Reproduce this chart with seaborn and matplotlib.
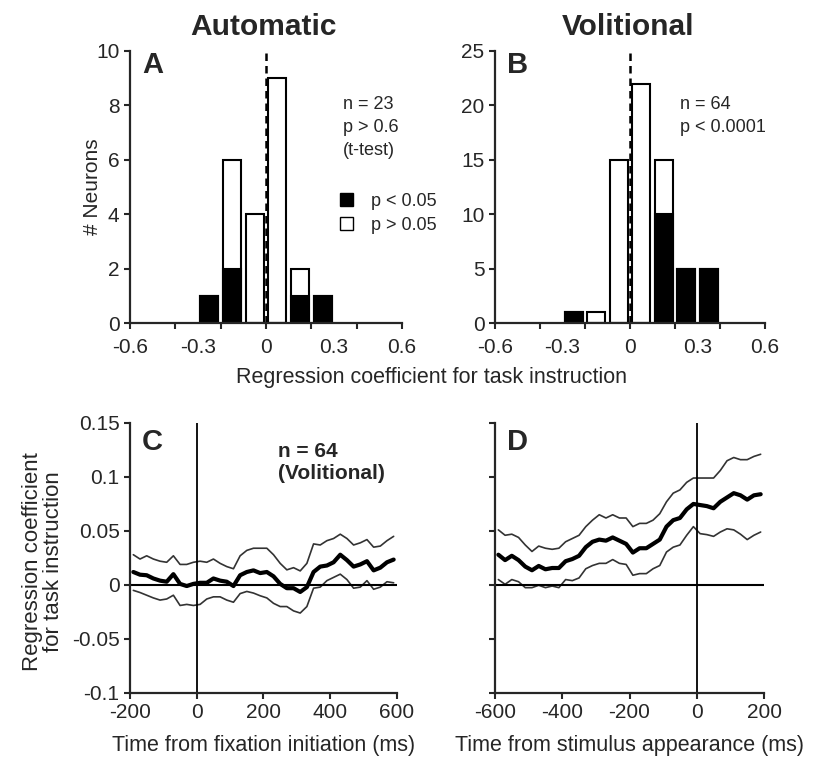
import numpy as np
import matplotlib
matplotlib.use("Agg")
import matplotlib.pyplot as plt
from matplotlib.patches import Patch
from matplotlib.ticker import MultipleLocator, FuncFormatter
import seaborn as sns

# histogram bins (regression coefficient), counts per bin
bins_a = [-0.25, -0.15, -0.05, 0.05, 0.15, 0.25]
total_a = [1, 6, 4, 9, 2, 1]
sig_a = [1, 2, 0, 0, 1, 1]

bins_b = [-0.25, -0.15, -0.05, 0.05, 0.15, 0.25, 0.35]
total_b = [1, 1, 15, 22, 15, 5, 5]
sig_b = [1, 0, 0, 0, 10, 5, 5]

# time courses (ms)
time_c = [-190, -170, -150, -130, -110, -90, -70, -50, -30, -10,
          10, 30, 50, 70, 90, 110, 130, 150, 170, 190,
          210, 230, 250, 270, 290, 310, 330, 350, 370, 390,
          410, 430, 450, 470, 490, 510, 530, 550, 570, 590]
mean_c = [0.012, 0.0095, 0.009, 0.006, 0.004, 0.003, 0.010, 0.001, -0.001, 0.001,
          0.002, 0.002, 0.006, 0.004, 0.003, -0.001, 0.009, 0.012, 0.0135, 0.011,
          0.012, 0.008, 0.001, -0.003, -0.003, -0.0065, -0.002, 0.012, 0.017, 0.018,
          0.021, 0.028, 0.023, 0.017, 0.019, 0.022, 0.0135, 0.016, 0.021, 0.0235]
upper_c = [0.028, 0.024, 0.027, 0.024, 0.022, 0.021, 0.027, 0.019, 0.019, 0.021,
           0.022, 0.021, 0.024, 0.020, 0.017, 0.015, 0.027, 0.032, 0.034, 0.034,
           0.034, 0.028, 0.020, 0.014, 0.016, 0.013, 0.020, 0.038, 0.037, 0.041,
           0.043, 0.047, 0.043, 0.037, 0.039, 0.042, 0.035, 0.036, 0.041, 0.045]
lower_c = [-0.005, -0.007, -0.0095, -0.012, -0.014, -0.013, -0.0095, -0.019, -0.018, -0.019,
           -0.018, -0.013, -0.011, -0.011, -0.014, -0.016, -0.008, -0.006, -0.0075, -0.010,
           -0.012, -0.017, -0.020, -0.020, -0.024, -0.026, -0.020, -0.003, -0.002, 0.004,
           0.007, 0.010, 0.005, -0.003, -0.002, 0.004, -0.004, -0.002, 0.003, 0.002]

time_d = [-590, -570, -550, -530, -510, -490, -470, -450, -430, -410,
          -390, -370, -350, -330, -310, -290, -270, -250, -230, -210,
          -190, -170, -150, -130, -110, -90, -70, -50, -30, -10,
          10, 30, 50, 70, 90, 110, 130, 150, 170, 190]
mean_d = [0.028, 0.023, 0.027, 0.023, 0.017, 0.0136, 0.0176, 0.0145, 0.0157, 0.0157,
          0.022, 0.024, 0.027, 0.035, 0.040, 0.042, 0.041, 0.044, 0.041, 0.038,
          0.030, 0.034, 0.034, 0.038, 0.042, 0.054, 0.060, 0.062, 0.070, 0.075,
          0.074, 0.073, 0.071, 0.077, 0.081, 0.085, 0.083, 0.079, 0.083, 0.084]
upper_d = [0.051, 0.046, 0.047, 0.044, 0.037, 0.031, 0.036, 0.034, 0.033, 0.034,
           0.040, 0.043, 0.046, 0.054, 0.060, 0.065, 0.062, 0.065, 0.062, 0.062,
           0.054, 0.057, 0.057, 0.060, 0.066, 0.077, 0.085, 0.088, 0.095, 0.099,
           0.099, 0.099, 0.099, 0.106, 0.115, 0.118, 0.116, 0.116, 0.119, 0.121]
lower_d = [0.005, 0.0006, 0.005, 0.003, -0.0025, -0.0025, -0.0003, -0.0025, -0.001, -0.0025,
           0.005, 0.004, 0.0065, 0.015, 0.018, 0.020, 0.020, 0.0235, 0.020, 0.019,
           0.009, 0.0105, 0.0105, 0.015, 0.018, 0.0305, 0.035, 0.037, 0.046, 0.054,
           0.0475, 0.0466, 0.045, 0.049, 0.052, 0.051, 0.047, 0.042, 0.046, 0.049]

sns.set_style("ticks")
plt.rcParams['font.family'] = ['Liberation Sans', 'DejaVu Sans']
plt.rcParams['axes.unicode_minus'] = False
plt.rcParams['axes.linewidth'] = 1.6

fig = plt.figure(figsize=(8.14, 7.6), dpi=100)
ax_a = fig.add_axes([0.1597, 0.575, 0.3342, 0.3579])
ax_b = fig.add_axes([0.6081, 0.575, 0.3317, 0.3579])
ax_c = fig.add_axes([0.1597, 0.0882, 0.328, 0.3553])
ax_d = fig.add_axes([0.6081, 0.0882, 0.3305, 0.3553])

fmt = FuncFormatter(lambda v, p: "%g" % round(v, 3))
TICK_FS = 15


def hist_panel(ax, centers, total, sig, top, step):
    lo = min(centers) - 0.05
    hi = max(centers) + 0.05
    sns.histplot(x=centers, weights=total, binwidth=0.1, binrange=(lo, hi),
                 shrink=0.8, color="white", edgecolor="black", linewidth=1.5,
                 alpha=1, ax=ax)
    sns.histplot(x=centers, weights=sig, binwidth=0.1, binrange=(lo, hi),
                 shrink=0.8, color="black", edgecolor="black", linewidth=1.5,
                 alpha=1, ax=ax)
    ax.axvline(0, color="black", ls="--", lw=1.8, dashes=(3, 2))
    ax.set_xlim(-0.6, 0.6)
    ax.set_ylim(0, top)
    ax.yaxis.set_major_locator(MultipleLocator(step))
    ax.set_xticks([-0.6, -0.3, 0, 0.3, 0.6])
    ax.set_xticks([-0.6, -0.4, -0.2, 0, 0.2, 0.4, 0.6], minor=True)
    ax.xaxis.remove_overlapping_locs = False
    ax.xaxis.set_major_formatter(fmt)
    ax.tick_params(axis="x", which="major", length=0, pad=11, labelsize=TICK_FS)
    ax.tick_params(axis="x", which="minor", length=4, width=1.5)
    ax.tick_params(axis="y", length=4, width=1.5, labelsize=TICK_FS)
    ax.set_xlabel("")
    ax.set_ylabel("")
    sns.despine(ax=ax)


hist_panel(ax_a, bins_a, total_a, sig_a, 10, 2)
hist_panel(ax_b, bins_b, total_b, sig_b, 25, 5)
fig.text(92 / 814, 1 - 187 / 760, "# Neurons", rotation=90, ha="center",
         va="center", fontsize=15)

ax_a.text(0.49, 1.088, "Automatic", transform=ax_a.transAxes, ha="center",
          va="center", fontsize=21.5, fontweight="bold")
ax_b.text(0.493, 1.088, "Volitional", transform=ax_b.transAxes, ha="center",
          va="center", fontsize=21.5, fontweight="bold")

ax_a.text(0.783, 0.835, "n = 23\np > 0.6\n(t-test)", transform=ax_a.transAxes,
          ha="left", va="top", fontsize=13, linespacing=1.45)
ax_b.text(0.685, 0.835, "n = 64\np < 0.0001", transform=ax_b.transAxes,
          ha="left", va="top", fontsize=13, linespacing=1.45)

handles = [Patch(facecolor="black", edgecolor="black", label="p < 0.05"),
           Patch(facecolor="white", edgecolor="black", label="p > 0.05")]
ax_a.legend(handles=handles, loc="upper left", bbox_to_anchor=(0.745, 0.505),
            frameon=False, fontsize=13, handlelength=0.7, handleheight=0.7,
            handletextpad=1.0, labelspacing=0.4, borderaxespad=0)

fig.text(432 / 814, 1 - 378 / 760, "Regression coefficient for task instruction",
         ha="center", va="center", fontsize=15.5)


def time_panel(ax, t, mean, upper, lower, xlim, xticks, show_labels):
    sns.lineplot(x=t, y=upper, color="#333333", lw=1.2, ax=ax)
    sns.lineplot(x=t, y=lower, color="#333333", lw=1.2, ax=ax)
    sns.lineplot(x=t, y=mean, color="black", lw=3, ax=ax)
    ax.axhline(0, color="black", lw=1.5)
    ax.axvline(0, color="black", lw=1.3)
    ax.set_xlim(*xlim)
    ax.set_ylim(-0.1, 0.15)
    ax.set_xticks(xticks)
    ax.yaxis.set_major_locator(MultipleLocator(0.05))
    ax.yaxis.set_major_formatter(fmt)
    ax.tick_params(axis="both", length=4, width=1.5, labelsize=TICK_FS)
    if not show_labels:
        ax.tick_params(axis="y", labelleft=False)
    sns.despine(ax=ax)


time_panel(ax_c, time_c, mean_c, upper_c, lower_c, (-200, 600),
           [-200, 0, 200, 400, 600], True)
time_panel(ax_d, time_d, mean_d, upper_d, lower_d, (-600, 200),
           [-600, -400, -200, 0, 200], False)
ax_c.set_xlabel("Time from fixation initiation (ms)", fontsize=15.5, labelpad=9)
ax_d.set_xlabel("Time from stimulus appearance (ms)", fontsize=15.5, labelpad=9)

fig.text(43 / 814, 1 - 562 / 760, "Regression coefficient\nfor task instruction",
         rotation=90, ha="center", va="center", fontsize=16, linespacing=0.95)

ax_c.text(0.554, 0.928, "n = 64\n(Volitional)", transform=ax_c.transAxes,
          ha="left", va="top", fontsize=15, fontweight="bold", linespacing=1.2)

for ax, letter in zip([ax_a, ax_b, ax_c, ax_d], "ABCD"):
    y = 0.949 if letter in "AB" else 0.93
    ax.text(0.085, y, letter, transform=ax.transAxes, ha="center", va="center",
            fontsize=21, fontweight="bold")

fig.savefig("out.png", dpi=100)
